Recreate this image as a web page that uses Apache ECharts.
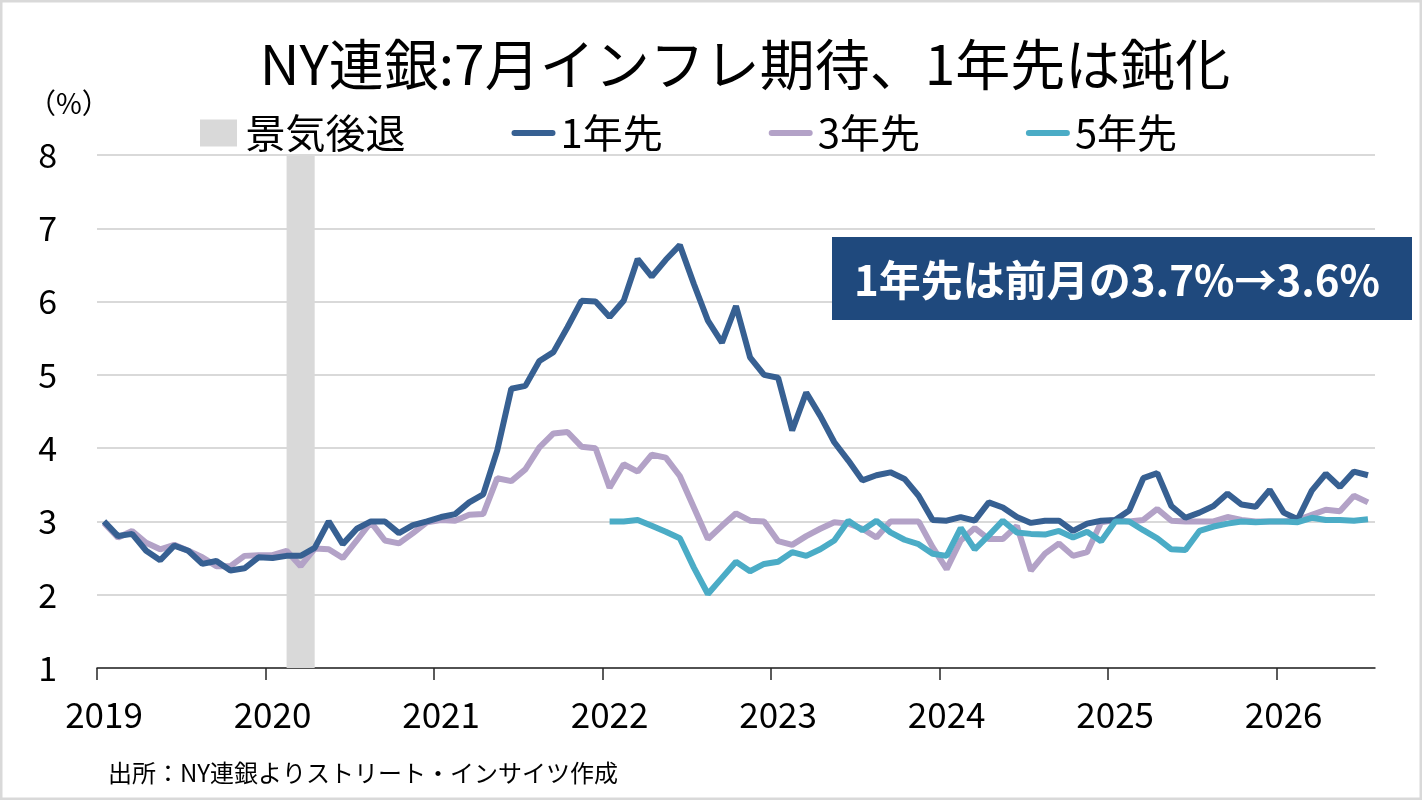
<!DOCTYPE html>
<html>
<head>
<meta charset="utf-8">
<script src="https://cdn.jsdelivr.net/npm/echarts@6/dist/echarts.min.js"></script>
<style>
  html, body { margin: 0; padding: 0; background: #fff; }
  #chart { width: 1422px; height: 800px; }
</style>
</head>
<body>
<div id="chart"></div>
<script>
// monthly data starting Jan 2019
var firstYear = 2019;
var yearTicks = [2019, 2020, 2021, 2022, 2023, 2024, 2025, 2026];
var recession = ['2020-02', '2020-04'];

var oneYear = [
	3.0, 2.8, 2.83, 2.6, 2.47, 2.67, 2.6, 2.42, 2.46, 2.33, 2.36, 2.51,
	2.5, 2.53, 2.53, 2.64, 3.0, 2.69, 2.9, 3.0, 3.0, 2.84, 2.95, 3.0,
	3.06, 3.1, 3.26, 3.37, 3.97, 4.81, 4.85, 5.19, 5.31, 5.65, 6.01, 6.0,
	5.79, 6.01, 6.58, 6.34, 6.57, 6.77, 6.24, 5.74, 5.44, 5.94, 5.24, 5.0,
	4.96, 4.24, 4.76, 4.44, 4.08, 3.83, 3.56, 3.63, 3.67, 3.58, 3.35, 3.02,
	3.01, 3.06, 3.01, 3.26, 3.19, 3.06, 2.98, 3.01, 3.01, 2.87, 2.97, 3.01,
	3.02, 3.15, 3.59, 3.66, 3.21, 3.05, 3.12, 3.21, 3.38, 3.23, 3.2, 3.43,
	3.12, 3.03, 3.42, 3.65, 3.47, 3.68, 3.63
];
var threeYear = [
	2.98, 2.78, 2.87, 2.71, 2.62, 2.68, 2.6, 2.51, 2.39, 2.39, 2.53, 2.54,
	2.54, 2.6, 2.39, 2.63, 2.62, 2.5, 2.74, 2.99, 2.74, 2.7, 2.84, 2.99,
	3.02, 3.01, 3.09, 3.1, 3.59, 3.55, 3.71, 4.01, 4.2, 4.22, 4.02, 4.0,
	3.46, 3.78, 3.68, 3.91, 3.87, 3.62, 3.19, 2.76, 2.94, 3.11, 3.01, 3.0,
	2.73, 2.68, 2.8, 2.9, 2.99, 2.97, 2.9, 2.78, 3.0, 3.0, 3.0, 2.65,
	2.35, 2.74, 2.91, 2.76, 2.76, 2.94, 2.33, 2.56, 2.7, 2.53, 2.58, 2.99,
	3.02, 3.0, 3.02, 3.17, 3.01, 3.0, 3.0, 3.0, 3.06, 3.02, 3.0, 3.0,
	3.0, 3.02, 3.09, 3.16, 3.14, 3.35, 3.26
];
var fiveYear = [
	null, null, null, null, null, null, null, null, null, null, null, null,
	null, null, null, null, null, null, null, null, null, null, null, null,
	null, null, null, null, null, null, null, null, null, null, null, null,
	3.0, 3.0, 3.02, 2.94, 2.86, 2.77, 2.37, 2.01, 2.23, 2.45, 2.32, 2.42,
	2.45, 2.58, 2.53, 2.62, 2.74, 3.01, 2.88, 3.01, 2.85, 2.75, 2.69, 2.56,
	2.53, 2.91, 2.62, 2.81, 3.01, 2.85, 2.83, 2.82, 2.87, 2.78, 2.86, 2.73,
	3.0, 3.0, 2.88, 2.77, 2.62, 2.61, 2.87, 2.93, 2.97, 3.0, 2.99, 3.0,
	3.0, 2.99, 3.05, 3.02, 3.02, 3.01, 3.03
];

var font = '"Noto Sans CJK JP", "Noto Sans", sans-serif';
var lineIcon = 'path://M3,0h38a3,3 0 0 1 0,6h-38a3,3 0 0 1 0,-6z';

// month index -> position on the year axis (centre of the month)
function monthPos(i) {
	return firstYear + (i + 0.5) / 12;
}
function ymPos(ym) {
	var p = ym.split('-');
	return monthPos((+p[0] - firstYear) * 12 + (+p[1] - 1));
}
function toPairs(arr) {
	return arr.map(function (v, i) { return [monthPos(i), v]; });
}

var chart = echarts.init(document.getElementById('chart'));
chart.setOption({
	animation: false,
	backgroundColor: '#fff',
	grid: { left: 97, right: 47, top: 155, bottom: 132 },
	legend: {
		left: 195,
		top: 108,
		itemGap: 106,
		itemWidth: 44,
		itemHeight: 27,
		textStyle: { fontSize: 40, color: '#000', fontFamily: font },
		data: [
			{ name: '景気後退', icon: 'path://M0,0h37v27h-37z', itemStyle: { color: '#d9d9d9' } },
			{ name: '1年先', icon: lineIcon, itemStyle: { color: '#376092' } },
			{ name: '3年先', icon: lineIcon, itemStyle: { color: '#b3a2c7' } },
			{ name: '5年先', icon: lineIcon, itemStyle: { color: '#4bacc6' } }
		]
	},
	xAxis: {
		type: 'value',
		min: firstYear,
		max: 2026 + 7 / 12,
		interval: 1,
		splitLine: { show: false },
		axisLine: { show: true, lineStyle: { color: '#262626', width: 1.5 } },
		axisTick: { show: true, length: 12, customValues: yearTicks, lineStyle: { color: '#262626', width: 1.5 } },
		axisLabel: {
			customValues: yearTicks,
			fontSize: 35, color: '#000', fontFamily: font,
			margin: 29, padding: [0, 0, 0, 14],
			formatter: function (v) { return String(v); }
		}
	},
	yAxis: {
		type: 'value',
		min: 1, max: 8, interval: 1,
		axisLine: { show: false },
		axisTick: { show: false },
		splitLine: { lineStyle: { color: '#d9d9d9', width: 2 } },
		axisLabel: { fontSize: 34, color: '#000', fontFamily: font, margin: 40 }
	},
	series: [
		{
			name: '景気後退', type: 'line', data: [],
			itemStyle: { color: '#d9d9d9' },
			markArea: {
				silent: true,
				itemStyle: { color: '#d9d9d9' },
				data: [[{ xAxis: ymPos(recession[0]) }, { xAxis: ymPos(recession[1]) }]]
			}
		},
		{
			name: '1年先', type: 'line', data: toPairs(oneYear), showSymbol: false, symbol: 'none',
			itemStyle: { color: '#376092' }, lineStyle: { color: '#376092', width: 6 }, z: 4
		},
		{
			name: '3年先', type: 'line', data: toPairs(threeYear), showSymbol: false, symbol: 'none',
			itemStyle: { color: '#b3a2c7' }, lineStyle: { color: '#b3a2c7', width: 6 }, z: 3
		},
		{
			name: '5年先', type: 'line', data: toPairs(fiveYear), showSymbol: false, symbol: 'none',
			itemStyle: { color: '#4bacc6' }, lineStyle: { color: '#4bacc6', width: 6 }, z: 5
		}
	],
	graphic: [
		{ type: 'rect', shape: { x: 1, y: 1, width: 1420, height: 798 }, style: { fill: 'none', stroke: '#d9d9d9', lineWidth: 3 }, silent: true },
		{ type: 'text', x: 745, y: 64, style: { text: 'NY連銀:7月インフレ期待、1年先は鈍化', fontSize: 55, fill: '#000', fontFamily: font, align: 'center', verticalAlign: 'middle' } },
		{ type: 'text', x: 28, y: 103, style: { text: '（%）', fontSize: 28, fill: '#000', fontFamily: font, verticalAlign: 'middle' } },
		{ type: 'rect', shape: { x: 832, y: 237, width: 580, height: 83 }, style: { fill: '#1f497d' }, z: 10 },
		{ type: 'text', x: 1117, y: 280, z: 11, style: { text: '1年先は前月の3.7%→3.6%', fontSize: 42, fontWeight: 'bold', fill: '#fff', fontFamily: font, align: 'center', verticalAlign: 'middle' } },
		{ type: 'text', x: 108, y: 773, style: { text: '出所：NY連銀よりストリート・インサイツ作成', fontSize: 24, fill: '#000', fontFamily: font, verticalAlign: 'middle' } }
	]
});
</script>
</body>
</html>
